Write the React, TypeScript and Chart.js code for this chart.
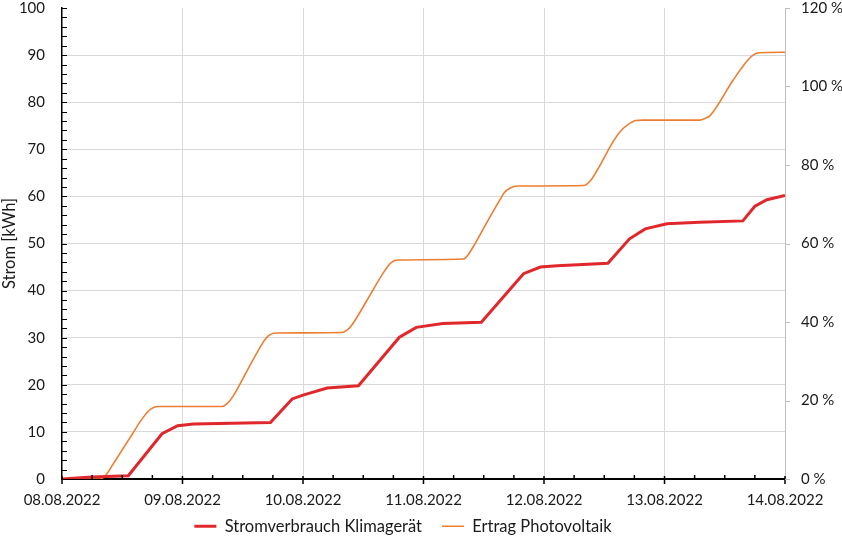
import React, { useEffect, useRef } from "react";
import { Chart, registerables } from "chart.js";

Chart.register(...registerables);

// X axis: days since 08.08.2022 00:00
const xTickLabels = ["08.08.2022", "09.08.2022", "10.08.2022", "11.08.2022", "12.08.2022", "13.08.2022", "14.08.2022"];

// Stromverbrauch Klimagerät (kWh, cumulative)
const consumptionDays = [0, 0.25, 0.55, 0.83, 0.96, 1.09, 1.73, 1.91, 2.0, 2.2, 2.46, 2.8, 2.94, 3.16, 3.48, 3.83, 3.97, 4.11, 4.53, 4.71, 4.84, 5.02, 5.29, 5.65, 5.75, 5.85, 6.0];
const consumptionKWh = [0, 0.4, 0.7, 9.6, 11.3, 11.7, 12.0, 17.0, 17.8, 19.3, 19.8, 30.1, 32.2, 33.0, 33.3, 43.6, 45.0, 45.3, 45.8, 51.0, 53.1, 54.2, 54.5, 54.8, 57.9, 59.3, 60.2];

// Ertrag Photovoltaik (kWh, cumulative)
const pvDays = [
  0, 0.32, 0.37, 0.42, 0.48, 0.58, 0.66, 0.72, 0.76, 0.8,
  1.33, 1.37, 1.42, 1.53, 1.64, 1.69, 1.73, 1.78,
  2.32, 2.36, 2.4, 2.53, 2.68, 2.73, 2.78,
  3.33, 3.37, 3.41, 3.52, 3.63, 3.67, 3.72, 3.78,
  4.33, 4.39, 4.44, 4.58, 4.64, 4.7, 4.76, 4.82,
  5.29, 5.34, 5.38, 5.57, 5.68, 5.73, 5.78, 6.0,
];
const pvKWh = [
  0, 0, 1.0, 3.0, 5.4, 9.4, 12.6, 14.5, 15.2, 15.4,
  15.4, 16.0, 17.6, 22.7, 27.8, 29.8, 30.7, 31.0,
  31.1, 31.5, 32.5, 37.9, 44.3, 45.9, 46.5,
  46.7, 47.6, 49.2, 54.2, 59.1, 60.8, 61.8, 62.2,
  62.3, 63.5, 65.5, 71.9, 74.0, 75.3, 76.1, 76.2,
  76.2, 76.6, 77.2, 84.7, 88.6, 89.9, 90.5, 90.6,
];

const FONT = "Lato";
const TEXT = "#1a1a1a";
const GRID = "#d9d9d9";

const axisTicks = {
  id: "axisTicks",
  afterLayout(chart: any) {
    const lg = chart.legend;
    if (lg) {
      lg.left -= 18;
      lg.right -= 18;
      lg.top -= 16;
      lg.bottom -= 16;
    }
  },
  afterDraw(chart: any) {
    const ctx = chart.ctx;
    const a = chart.chartArea;
    const x = chart.scales.x;
    const y = chart.scales.y;
    const y2 = chart.scales.y2;
    ctx.save();
    // left axis: inside ticks every 2 kWh
    ctx.strokeStyle = "#000";
    ctx.lineWidth = 1;
    for (let v = 0; v <= 100; v += 2) {
      const py = Math.round(y.getPixelForValue(v)) + 0.5;
      ctx.beginPath();
      ctx.moveTo(a.left, py);
      ctx.lineTo(a.left + 5, py);
      ctx.stroke();
    }
    // bottom axis: minor ticks every 6h (inside), major ticks at days (crossing)
    ctx.lineWidth = 1.5;
    for (let v = 0; v <= 6; v += 0.25) {
      const px = x.getPixelForValue(v);
      const major = Number.isInteger(v);
      ctx.beginPath();
      ctx.moveTo(px, major ? a.bottom - 3 : a.bottom - 4);
      ctx.lineTo(px, major ? a.bottom + 5 : a.bottom);
      ctx.stroke();
    }
    // right axis: outside ticks
    ctx.strokeStyle = "#bfbfbf";
    ctx.lineWidth = 1;
    for (let v = 0; v <= 120; v += 20) {
      const py = Math.round(y2.getPixelForValue(v)) + 0.5;
      ctx.beginPath();
      ctx.moveTo(a.right, py);
      ctx.lineTo(a.right + 5, py);
      ctx.stroke();
    }
    ctx.restore();
  },
};

export default function App() {
  const ref = useRef<HTMLCanvasElement>(null);
  useEffect(() => {
    Chart.defaults.font.family = FONT;
    Chart.defaults.font.size = 15;
    Chart.defaults.color = TEXT;
    const chart = new Chart(ref.current as HTMLCanvasElement, {
      type: "line",
      data: {
        datasets: [
          {
            label: "Stromverbrauch Klimagerät",
            data: consumptionDays.map((d, i) => ({ x: d, y: consumptionKWh[i] })),
            borderColor: "#e0282c",
            backgroundColor: "#e0282c",
            borderWidth: 3,
            pointRadius: 0,
            tension: 0,
            yAxisID: "y",
            order: 1,
          },
          {
            label: "Ertrag Photovoltaik",
            data: pvDays.map((d, i) => ({ x: d, y: pvKWh[i] })),
            borderColor: "#ed7d31",
            backgroundColor: "#ed7d31",
            borderWidth: 1.6,
            pointRadius: 0,
            cubicInterpolationMode: "monotone",
            yAxisID: "y",
            order: 2,
          },
        ],
      },
      options: {
        responsive: false,
        animation: false,
        devicePixelRatio: 1,
        layout: { padding: { top: 8, left: 0, right: 0, bottom: -19.5 } },
        plugins: {
          legend: {
            position: "bottom",
            labels: {
              usePointStyle: true,
              pointStyle: "line",
              pointStyleWidth: 22,
              boxHeight: 16,
              padding: 20,
              color: TEXT,
              font: { family: FONT, size: 16.5 },
            },
          },
          tooltip: { enabled: false },
        },
        scales: {
          x: {
            type: "linear",
            min: 0,
            max: 6,
            afterFit: (s: any) => {
              s.height = 35;
            },
            border: { color: "#000", width: 2 },
            grid: {
              drawTicks: false,
              color: (c: any) => (Number.isInteger(c.tick.value) && c.tick.value > 0 ? GRID : "transparent"),
            },
            ticks: {
              stepSize: 0.25,
              autoSkip: false,
              maxRotation: 0,
              padding: 12,
              color: TEXT,
              callback: (v: any) => (Number.isInteger(v) ? xTickLabels[v] : ""),
            },
          },
          y: {
            type: "linear",
            position: "left",
            min: 0,
            max: 100,
            afterFit: (s: any) => {
              s.width = 62;
              s.paddingTop = 0;
              s.paddingBottom = 0;
            },
            border: { color: "#000", width: 1.5 },
            grid: {
              drawTicks: false,
              color: (c: any) => (c.tick.value % 10 === 0 && c.tick.value > 0 && c.tick.value < 100 ? GRID : "transparent"),
            },
            ticks: {
              stepSize: 2,
              autoSkip: false,
              padding: 17,
              color: TEXT,
              callback: (v: any) => (v % 10 === 0 ? String(v) : ""),
            },
            title: {
              display: true,
              text: "Strom [kWh]",
              color: TEXT,
              font: { family: FONT, size: 16.5 },
              padding: { top: 0, bottom: 0 },
            },
          },
          y2: {
            type: "linear",
            position: "right",
            min: 0,
            max: 120,
            afterFit: (s: any) => {
              s.width = 57;
              s.paddingTop = 0;
              s.paddingBottom = 0;
            },
            border: { color: "#bfbfbf", width: 1 },
            grid: { drawOnChartArea: false, drawTicks: false },
            ticks: {
              stepSize: 20,
              padding: 16,
              color: TEXT,
              callback: (v: any) => v + " %",
            },
          },
        },
      },
      plugins: [axisTicks],
    } as any);
    return () => chart.destroy();
  }, []);
  return (
    <div style={{ position: "absolute", left: 0, top: 0, width: 842, height: 541, background: "#fff" }}>
      <canvas ref={ref} width={842} height={541} style={{ display: "block" }} />
    </div>
  );
}
